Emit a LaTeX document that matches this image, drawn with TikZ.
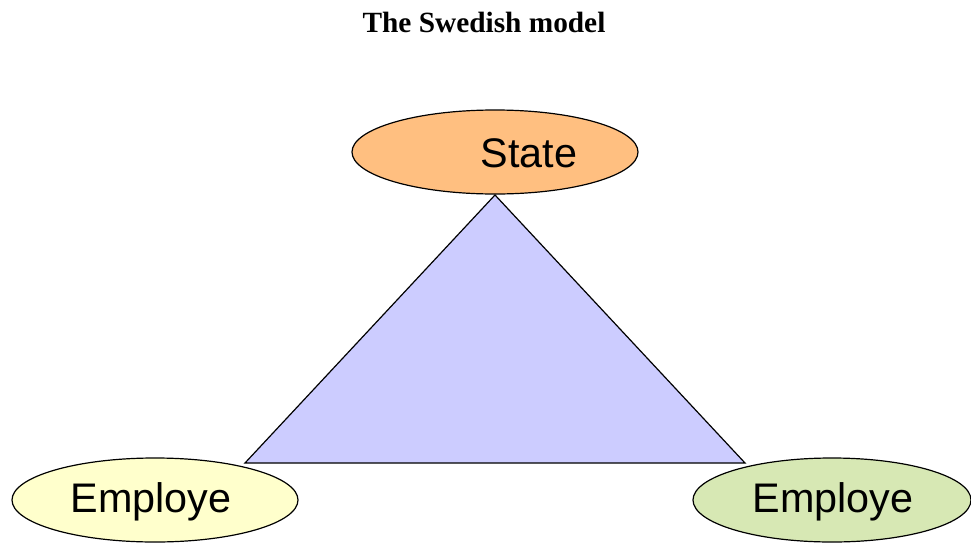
\documentclass[tikz,border=0pt]{standalone}
\usepackage{fontspec}
\setmainfont{Liberation Serif}
\newfontfamily\arialfont{Liberation Sans}
\usetikzlibrary{shapes.geometric}
\definecolor{stateorange}{RGB}{255,191,128}
\definecolor{triblue}{RGB}{204,204,255}
\definecolor{empyellow}{RGB}{255,255,204}
\definecolor{empgreen}{RGB}{215,232,180}
\begin{document}
\begin{tikzpicture}[x=0.75pt,y=-0.75pt,
  blob/.style={draw=black,line width=0.9pt,ellipse,inner sep=0pt},
  lbl/.style={font=\arialfont\fontsize{31}{36}\selectfont,inner sep=0pt,anchor=center}]
\useasboundingbox (0,0) rectangle (971,543);
\node[font=\bfseries\fontsize{22}{25}\selectfont,inner sep=0pt] (title) at (484,22) {The Swedish model};
\coordinate (apex) at (495,195);
\coordinate (bl) at (245,463);
\coordinate (br) at (745,463);
\fill[triblue] (apex) -- (bl) -- (br) -- cycle;
\draw[line width=0.9pt,line join=miter] (apex) -- (bl) -- (br) -- cycle;
\node[blob,fill=stateorange,minimum width=214.5pt,minimum height=63pt] (state) at (495,152) {};
\node[blob,fill=empyellow,minimum width=214.5pt,minimum height=63pt] (left) at (155,500) {};
\node[blob,fill=empgreen,minimum width=208.5pt,minimum height=63pt] (right) at (832,500) {};
\node[lbl] (statetxt) at (529,153) {State};
\node[lbl] (lefttxt) at (151,502) {Employe};
\node[lbl] (righttxt) at (833,502) {Employe};
\end{tikzpicture}
\end{document}
